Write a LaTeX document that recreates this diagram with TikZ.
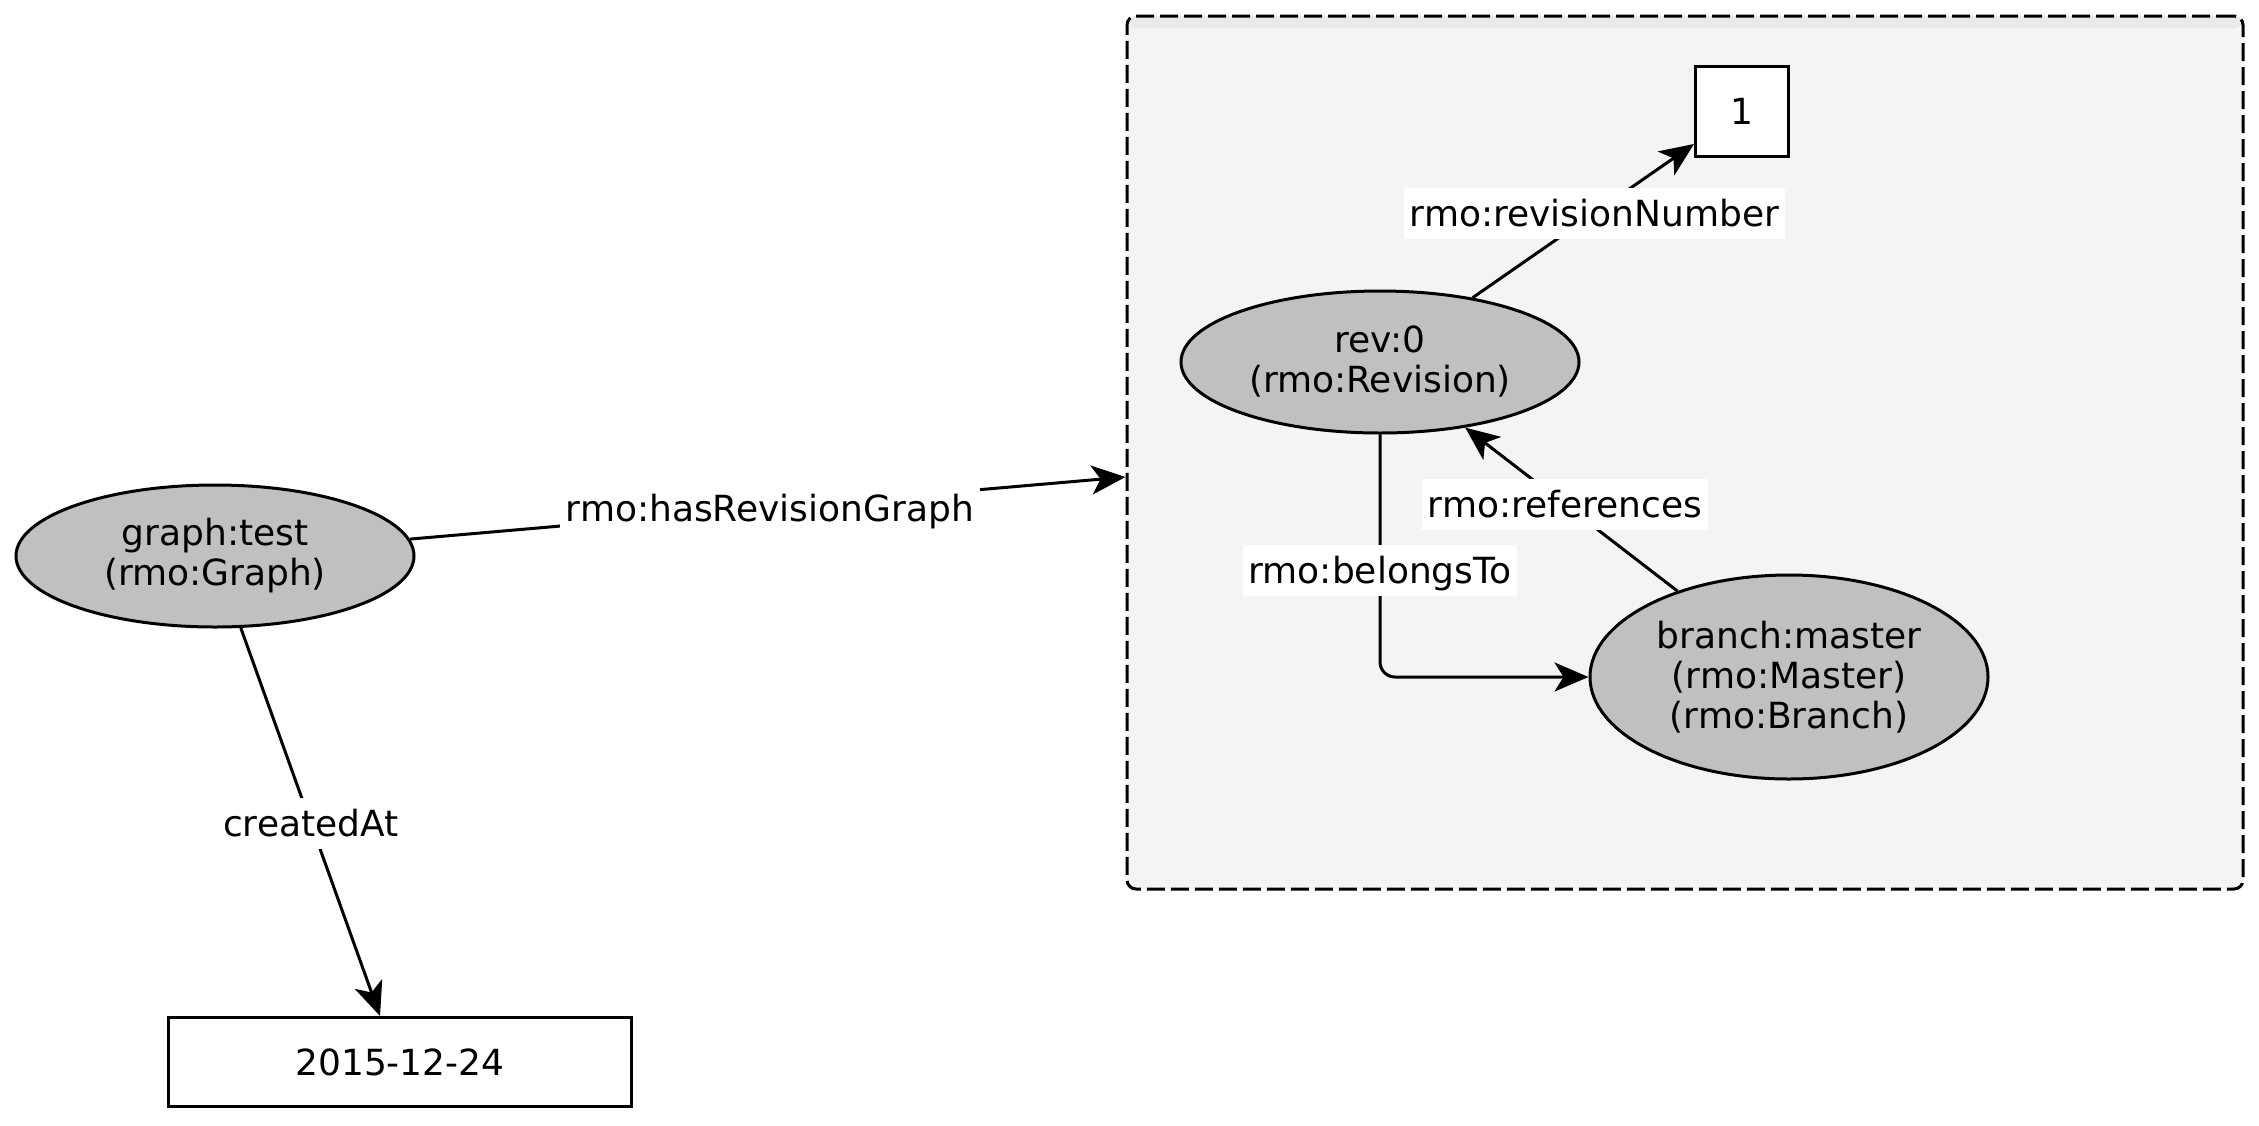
\documentclass[tikz,border=0pt]{standalone}
\usepackage{fontspec}
\setmainfont{DejaVu Sans}
\usetikzlibrary{shapes.geometric,arrows.meta}
\definecolor{clfill}{HTML}{F4F4F4}
\definecolor{clband}{HTML}{EAEAEA}
\definecolor{nodefill}{HTML}{C0C0C0}
\begin{document}
\begin{tikzpicture}[x=1pt,y=-1pt,
  font=\fontsize{36}{40}\selectfont,
  cluster/.style={draw, line width=3pt, dash pattern=on 18pt off 6pt, rounded corners=9pt,
    fill=clfill, minimum width=1116pt, minimum height=873pt, inner sep=0pt,
    path picture={\fill[clband] (path picture bounding box.north west) rectangle ([yshift=-12pt]path picture bounding box.north east);}},
  res/.style={ellipse, draw, line width=3pt, fill=nodefill, minimum width=398pt, minimum height=142pt, inner sep=0pt, align=center},
  lit/.style={rectangle, draw, line width=3pt, fill=white, inner sep=0pt, align=center},
  edge/.style={line width=3pt},
  arr/.style={edge, -{Stealth[length=34pt,width=29pt,inset=9pt]}},
  lbl/.style={fill=white, sharp corners, inner xsep=6pt, inner ysep=8pt, text height=31pt, text depth=4pt, font=\fontsize{36}{40}\selectfont}
]
\useasboundingbox (0,0) rectangle (2259,1125);

\node[cluster] (cl) at (1685,452.5) {};

\node[res] (graph) at (215,556) {graph:test\\(rmo:Graph)};
\node[lit, minimum width=463pt, minimum height=89pt] (date) at (400,1062) {2015-12-24};
\node[res] (rev) at (1380,362) {rev:0\\(rmo:Revision)};
\node[res, minimum height=204pt] (branch) at (1789,677) {branch:master\\(rmo:Master)\\(rmo:Branch)};
\node[lit, minimum width=93pt, minimum height=90pt] (num) at (1742,111) {1};

\draw[arr] (graph) -- ([yshift=-24.5pt]cl.west) node[lbl, pos=0.503] {rmo:hasRevisionGraph};
\draw[arr] (graph) -- ([xshift=-20pt]date.north) node[lbl, pos=0.503] {createdAt};
\draw[arr] (rev) -- ([yshift=-33pt]num.west) node[lbl, pos=0.55] {rmo:revisionNumber};
\draw[arr] (branch) -- (rev) node[lbl, pos=0.53] {rmo:references};
\draw[arr, rounded corners=15pt] (rev.south) |- (branch.west) node[lbl, pos=0.28] {rmo:belongsTo};
\end{tikzpicture}
\end{document}
